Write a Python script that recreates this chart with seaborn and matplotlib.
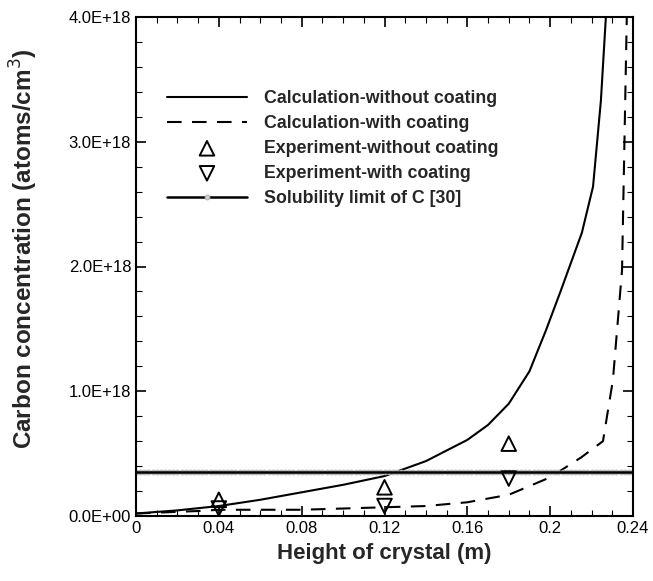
import numpy as np
import pandas as pd
import matplotlib
matplotlib.use("Agg")
import matplotlib.pyplot as plt
import seaborn as sns
from matplotlib.ticker import MultipleLocator, FuncFormatter

# Data
calc_wo_x = [0.0, 0.02, 0.04, 0.06, 0.08, 0.10, 0.12, 0.14, 0.16, 0.17, 0.18, 0.19, 0.198, 0.205, 0.2153, 0.2207, 0.2245, 0.2269]
calc_wo_y = [0.02e18, 0.045e18, 0.08e18, 0.13e18, 0.19e18, 0.25e18, 0.32e18, 0.44e18, 0.61e18, 0.73e18, 0.90e18, 1.16e18, 1.49e18, 1.80e18, 2.27e18, 2.64e18, 3.33e18, 4.0e18]

calc_w_x = [0.0, 0.03, 0.04, 0.08, 0.12, 0.14, 0.16, 0.18, 0.20, 0.215, 0.2255, 0.2303, 0.2347, 0.237]
calc_w_y = [0.02e18, 0.04e18, 0.05e18, 0.05e18, 0.07e18, 0.08e18, 0.11e18, 0.17e18, 0.31e18, 0.47e18, 0.60e18, 1.09e18, 1.97e18, 4.0e18]

exp_wo_x = [0.04, 0.12, 0.18]
exp_wo_y = [0.13e18, 0.23e18, 0.58e18]
exp_w_x = [0.04, 0.12, 0.18]
exp_w_y = [0.06e18, 0.08e18, 0.30e18]

sol_x = [0.0, 0.24]
sol_y = [0.35e18, 0.35e18]

sns.set_style("ticks")
plt.rcParams['font.family'] = ['Liberation Sans', 'DejaVu Sans']

fig = plt.figure(figsize=(6.53, 5.81), dpi=100)
ax = fig.add_axes([136/653, 1-516/581, (633-136)/653, (516-17)/581])

sns.lineplot(x=calc_wo_x, y=calc_wo_y, ax=ax, color='black', lw=1.5,
             label='Calculation-without coating', sort=False)
sns.lineplot(x=calc_w_x, y=calc_w_y, ax=ax, color='black', lw=1.5,
             label='Calculation-with coating', sort=False)
ax.lines[-1].set_dashes([7, 5])
sns.scatterplot(x=exp_wo_x, y=exp_wo_y, ax=ax, marker='^', s=110,
                facecolor='none', edgecolor='black', linewidth=1.4,
                label='Experiment-without coating', zorder=5)
sns.scatterplot(x=exp_w_x, y=exp_w_y, ax=ax, marker='v', s=110,
                facecolor='none', edgecolor='black', linewidth=1.4,
                label='Experiment-with coating', zorder=5)
# solubility limit: grey dotted halo with a black line on top
sol_grid = np.linspace(sol_x[0], sol_x[1], 121)
sol_df = pd.DataFrame({'x': sol_grid, 'y': np.interp(sol_grid, sol_x, sol_y)})
sns.lineplot(data=sol_df, x='x', y='y', ax=ax, color='black', lw=1.8,
             marker='o', markersize=3.5, markerfacecolor='#d0d0d0',
             markeredgecolor='#a8a8a8', markeredgewidth=0.6,
             label='Solubility limit of C [30]')
sns.lineplot(x=sol_x, y=sol_y, ax=ax, color='black', lw=1.8, legend=False)

ax.set_xlim(0, 0.24)
ax.set_ylim(0, 4e18)
ax.xaxis.set_major_locator(MultipleLocator(0.04))
ax.xaxis.set_minor_locator(MultipleLocator(0.01))
ax.yaxis.set_major_locator(MultipleLocator(1e18))
ax.yaxis.set_minor_locator(MultipleLocator(0.2e18))
ax.xaxis.set_major_formatter(FuncFormatter(lambda v, p: '0' if abs(v) < 1e-9 else f'{v:g}'))
def yfmt(v, p):
    if abs(v) < 1:
        return '0.0E+00'
    return f'{v/1e18:.1f}E+18'
ax.yaxis.set_major_formatter(FuncFormatter(yfmt))
ax.tick_params(which='both', direction='in', top=True, right=True, colors='black', labelsize=12)
ax.tick_params(which='major', length=7, width=1.2)
ax.tick_params(which='minor', length=4, width=0.8)
for s in ax.spines.values():
    s.set_linewidth(1.5); s.set_color('black')

ax.set_xlabel('Height of crystal (m)', fontsize=16, fontweight='bold', labelpad=5)
ax.set_ylabel('Carbon concentration (atoms/cm$^3$)', fontsize=17.5, fontweight='bold')
ax.yaxis.set_label_coords(-0.194, 0.535)

leg = ax.legend(loc='upper left', bbox_to_anchor=(0.048, 0.868), borderaxespad=0,
                frameon=False, prop={'weight': 'bold', 'size': 12.8},
                handlelength=4.5, handletextpad=0.95, labelspacing=0.45)

fig.savefig('out.png', dpi=100)
